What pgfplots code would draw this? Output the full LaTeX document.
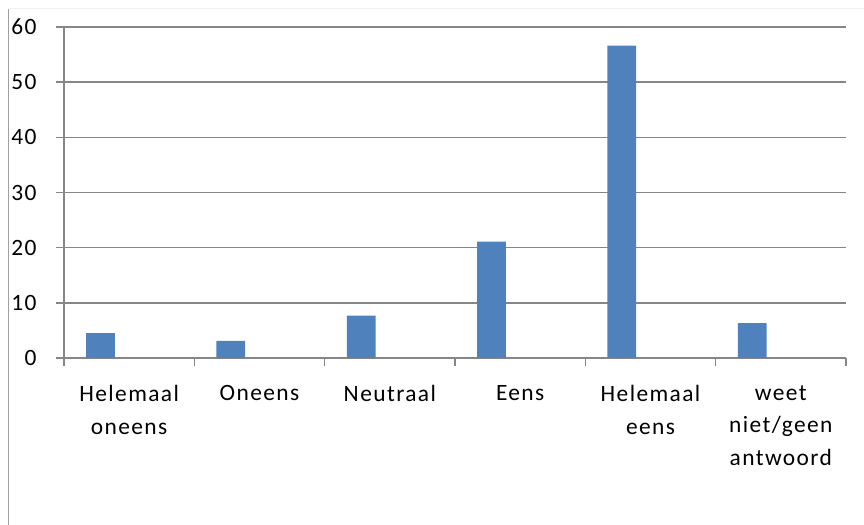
\documentclass[border=0pt]{standalone}
\usepackage{fontspec}
\setmainfont{Carlito}[LetterSpace=6]
\usepackage{pgfplots}
\pgfplotsset{compat=1.18}
\definecolor{barblue}{HTML}{4F81BD}
\definecolor{axisgray}{HTML}{868686}
\definecolor{framegray}{HTML}{A0A0A0}
\begin{document}
\begin{tikzpicture}[x=1bp,y=1bp]
\path[use as bounding box] (0,0) rectangle (864,525);
% chart frame edges
\draw[framegray, line width=1.5bp] (8.5,0) -- (8.5,516);
\draw[black!6, line width=1bp] (8.5,516) -- (864,516);
\begin{axis}[
  at={(64bp,167bp)}, anchor=south west,
  scale only axis,
  width=782bp, height=331bp,
  xmin=0, xmax=6,
  ymin=0, ymax=60,
  ytick={0,10,...,60},
  xtick={0,1,...,6},
  x tick label as interval,
  xticklabels={{Helemaal\\oneens},{Oneens},{Neutraal},{Eens},{Helemaal\\eens},{weet\\niet/geen\\antwoord}},
  axis x line=bottom, axis y line=left,
  axis line style={axisgray, line width=1.5bp, -},
  every tick/.style={axisgray, line width=1.5bp},
  major tick length=8bp,
  tick align=outside,
  ymajorgrids,
  grid style={axisgray, line width=1.5bp},
  /pgf/number format/assume math mode=true,
  tick label style={font=\fontsize{23.5}{32.5}\selectfont, text=black},
  xticklabel style={align=center, anchor=north, yshift=-16bp},
  yticklabel style={anchor=east, xshift=-16bp},
  ybar, bar width=28.7bp, bar shift=0pt,
  clip=false,
]
\addplot[fill=barblue, draw=none] coordinates {
  (0.28,4.5) (1.28,3.1) (2.28,7.7) (3.28,21.1) (4.28,56.6) (5.28,6.3)
};
\end{axis}
\end{tikzpicture}
\end{document}
